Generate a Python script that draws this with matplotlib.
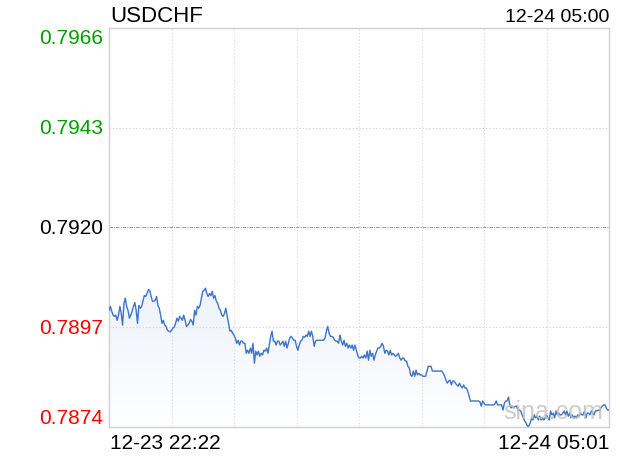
import numpy as np
import matplotlib.pyplot as plt
from matplotlib import transforms
from matplotlib.colors import LinearSegmentedColormap

plt.rcParams['font.family'] = ['Liberation Sans', 'DejaVu Sans']

symbol = "USDCHF"
stamp = "12-24 05:00"
start_label = "12-23 22:22"
end_label = "12-24 05:01"
prev_close = 0.7920
y_ticks = [0.7966, 0.7943, 0.7920, 0.7897, 0.7874]
tick_text = ["0.7966", "0.7943", "0.7920", "0.7897", "0.7874"]

# minute prices in chunks
seg1 = [0.79009, 0.79018, 0.79007, 0.78998, 0.78995, 0.78998, 0.78986, 0.78998, 0.79018, 0.79002,
        0.78975, 0.79025, 0.79037, 0.79018, 0.79009, 0.78991, 0.78998, 0.79007, 0.79018, 0.79027,
        0.79009, 0.78979, 0.79020, 0.79014, 0.79018, 0.79030, 0.79043, 0.79041, 0.79048, 0.79057,
        0.79055, 0.79041, 0.79030, 0.79030, 0.79032, 0.79041, 0.79020, 0.79014, 0.78998, 0.78979,
        0.78986, 0.78975, 0.78972, 0.78963, 0.78961, 0.78959, 0.78963, 0.78968, 0.78970, 0.78979,
        0.78991, 0.78984, 0.78995, 0.78991, 0.78986, 0.78998, 0.78986, 0.78972, 0.78975]
seg2 = [0.78979, 0.78988, 0.78984, 0.78975, 0.79009, 0.78998, 0.79018, 0.79014, 0.79020, 0.79037,
        0.79053, 0.79055, 0.79060, 0.79048, 0.79041, 0.79048, 0.79043, 0.79053, 0.79037, 0.79043,
        0.79030, 0.79025, 0.79014, 0.79009, 0.78998, 0.78995, 0.79002, 0.79014, 0.78995, 0.78979,
        0.78961, 0.78963, 0.78956, 0.78952, 0.78945, 0.78933, 0.78940, 0.78929, 0.78938, 0.78938,
        0.78933, 0.78933, 0.78910, 0.78917, 0.78910, 0.78922, 0.78910, 0.78933, 0.78887, 0.78915,
        0.78906, 0.78915, 0.78903, 0.78910, 0.78906, 0.78917, 0.78915, 0.78922, 0.78910, 0.78929,
        0.78949, 0.78961]
seg3 = [0.78938, 0.78938, 0.78929, 0.78938, 0.78938, 0.78929, 0.78933, 0.78938, 0.78926, 0.78938,
        0.78922, 0.78933, 0.78945, 0.78949, 0.78945, 0.78940, 0.78940, 0.78926, 0.78917, 0.78929,
        0.78938, 0.78940, 0.78949, 0.78947, 0.78952, 0.78949, 0.78961, 0.78949, 0.78961, 0.78949,
        0.78926, 0.78938, 0.78940, 0.78940, 0.78940, 0.78940, 0.78940, 0.78940, 0.78945, 0.78961,
        0.78972, 0.78956, 0.78949, 0.78949, 0.78947, 0.78940, 0.78938, 0.78938, 0.78933, 0.78952,
        0.78938, 0.78929, 0.78940, 0.78926, 0.78933, 0.78922, 0.78929, 0.78922, 0.78929, 0.78917,
        0.78929, 0.78917, 0.78906]
seg4 = [0.78899, 0.78899, 0.78903, 0.78899, 0.78906, 0.78899, 0.78915, 0.78894, 0.78917, 0.78903,
        0.78910, 0.78894, 0.78906, 0.78915, 0.78922, 0.78922, 0.78926, 0.78933, 0.78926, 0.78910,
        0.78917, 0.78915, 0.78906, 0.78917, 0.78906, 0.78910, 0.78906, 0.78903, 0.78906, 0.78910,
        0.78899, 0.78894, 0.78899, 0.78899, 0.78892, 0.78892, 0.78880, 0.78876, 0.78860, 0.78857,
        0.78869, 0.78857, 0.78871, 0.78860, 0.78864, 0.78860, 0.78860, 0.78857, 0.78857, 0.78857,
        0.78869, 0.78880, 0.78880, 0.78880, 0.78869, 0.78869, 0.78869, 0.78869, 0.78869, 0.78869,
        0.78869, 0.78869]
seg5 = [0.78864, 0.78857, 0.78848, 0.78841, 0.78846, 0.78848, 0.78837, 0.78846, 0.78846, 0.78841,
        0.78837, 0.78834, 0.78841, 0.78834, 0.78830, 0.78837, 0.78830, 0.78830, 0.78823, 0.78811,
        0.78800, 0.78800, 0.78800, 0.78800, 0.78800, 0.78800, 0.78800, 0.78798, 0.78788, 0.78800,
        0.78795, 0.78791, 0.78791, 0.78791, 0.78791, 0.78791, 0.78791, 0.78791, 0.78793, 0.78800,
        0.78791, 0.78791, 0.78791, 0.78791, 0.78779, 0.78795, 0.78800, 0.78800, 0.78809, 0.78791,
        0.78784, 0.78788, 0.78784, 0.78788, 0.78788, 0.78779, 0.78779, 0.78777]
seg6 = [0.78768, 0.78761, 0.78754, 0.78749, 0.78742, 0.78742, 0.78749, 0.78761, 0.78756, 0.78768,
        0.78761, 0.78765, 0.78756, 0.78765, 0.78756, 0.78761, 0.78756, 0.78761, 0.78768, 0.78761,
        0.78756, 0.78777, 0.78768, 0.78772, 0.78761, 0.78777, 0.78768, 0.78772, 0.78768, 0.78768,
        0.78772, 0.78777, 0.78768, 0.78777, 0.78765, 0.78772, 0.78761, 0.78768, 0.78761, 0.78765,
        0.78761, 0.78768, 0.78765, 0.78772, 0.78768, 0.78768, 0.78777, 0.78761, 0.78772, 0.78772,
        0.78768, 0.78777, 0.78772, 0.78768, 0.78777, 0.78777, 0.78779, 0.78777, 0.78784, 0.78788,
        0.78791, 0.78791, 0.78784, 0.78779, 0.78779]

price = np.array(seg1 + seg2 + seg3 + seg4 + seg5 + seg6)
x = np.arange(len(price))
ymin, ymax = y_ticks[-1], y_ticks[0]

fig = plt.figure(figsize=(6.2, 4.6), dpi=100)
ax = fig.add_axes([109 / 620, 1 - 428 / 460, 500 / 620, 399 / 460])

# gradient fill under the line: pale blue at the top fading to white
fill = ax.fill_between(x, price, ymin, color="none", lw=0)
grad_cmap = LinearSegmentedColormap.from_list("g", ["#ffffff", "#edf2fb"])
img = ax.imshow(np.linspace(0, 1, 256).reshape(-1, 1), cmap=grad_cmap, aspect="auto",
                origin="lower", extent=[0, len(price) - 1, ymin, price.max()], zorder=1)
img.set_clip_path(fill.get_paths()[0], transform=ax.transData)
ax.plot(x, price, color="#3c74c9", lw=1.0, zorder=3)

ax.set_xlim(0, len(price) - 1)
ax.set_ylim(ymin, ymax)

# grid: 8 columns, dotted
for gx in np.linspace(0, len(price) - 1, 9)[1:-1]:
    ax.axvline(gx, color="#d8d8d8", lw=0.8, ls=(0, (1, 2)), zorder=2)
for gy in (y_ticks[1], y_ticks[3]):
    ax.axhline(gy, color="#d0d0d0", lw=0.8, ls=(0, (1, 2)), zorder=2)
ax.axhline(prev_close, color="#9a9a9a", lw=0.8, ls=(0, (3, 1, 1, 1)), zorder=2)

ax.set_xticks([])
ax.set_yticks([])
for s in ax.spines.values():
    s.set_color("#d0d0d0")
    s.set_linewidth(1.0)

# price labels on the left, colored vs previous close
trans = transforms.blended_transform_factory(ax.transAxes, ax.transData)
for val, txt in zip(y_ticks, tick_text):
    if val > prev_close:
        c = "#00a000"
    elif val < prev_close:
        c = "#ff0000"
    else:
        c = "black"
    va = "center"
    if val == ymax:
        va = "top"
    elif val == ymin:
        va = "bottom"
    ax.text(-0.012, val, txt, transform=trans, ha="right", va=va,
            fontsize=15, color=c)

fig.text(110 / 620, 1 - 16 / 460, symbol, ha="left", va="center", fontsize=16)
fig.text(609 / 620, 1 - 17 / 460, stamp, ha="right", va="center", fontsize=14)
fig.text(110 / 620, 1 - 444 / 460, start_label, ha="left", va="center", fontsize=15)
fig.text(609 / 620, 1 - 444 / 460, end_label, ha="right", va="center", fontsize=15)

ax.text(0.888, 0.04, "sina.com", transform=ax.transAxes, ha="center", va="center",
        fontsize=18, color="#c0c0c0", alpha=0.8, zorder=4)

fig.savefig("out.png", dpi=100)
